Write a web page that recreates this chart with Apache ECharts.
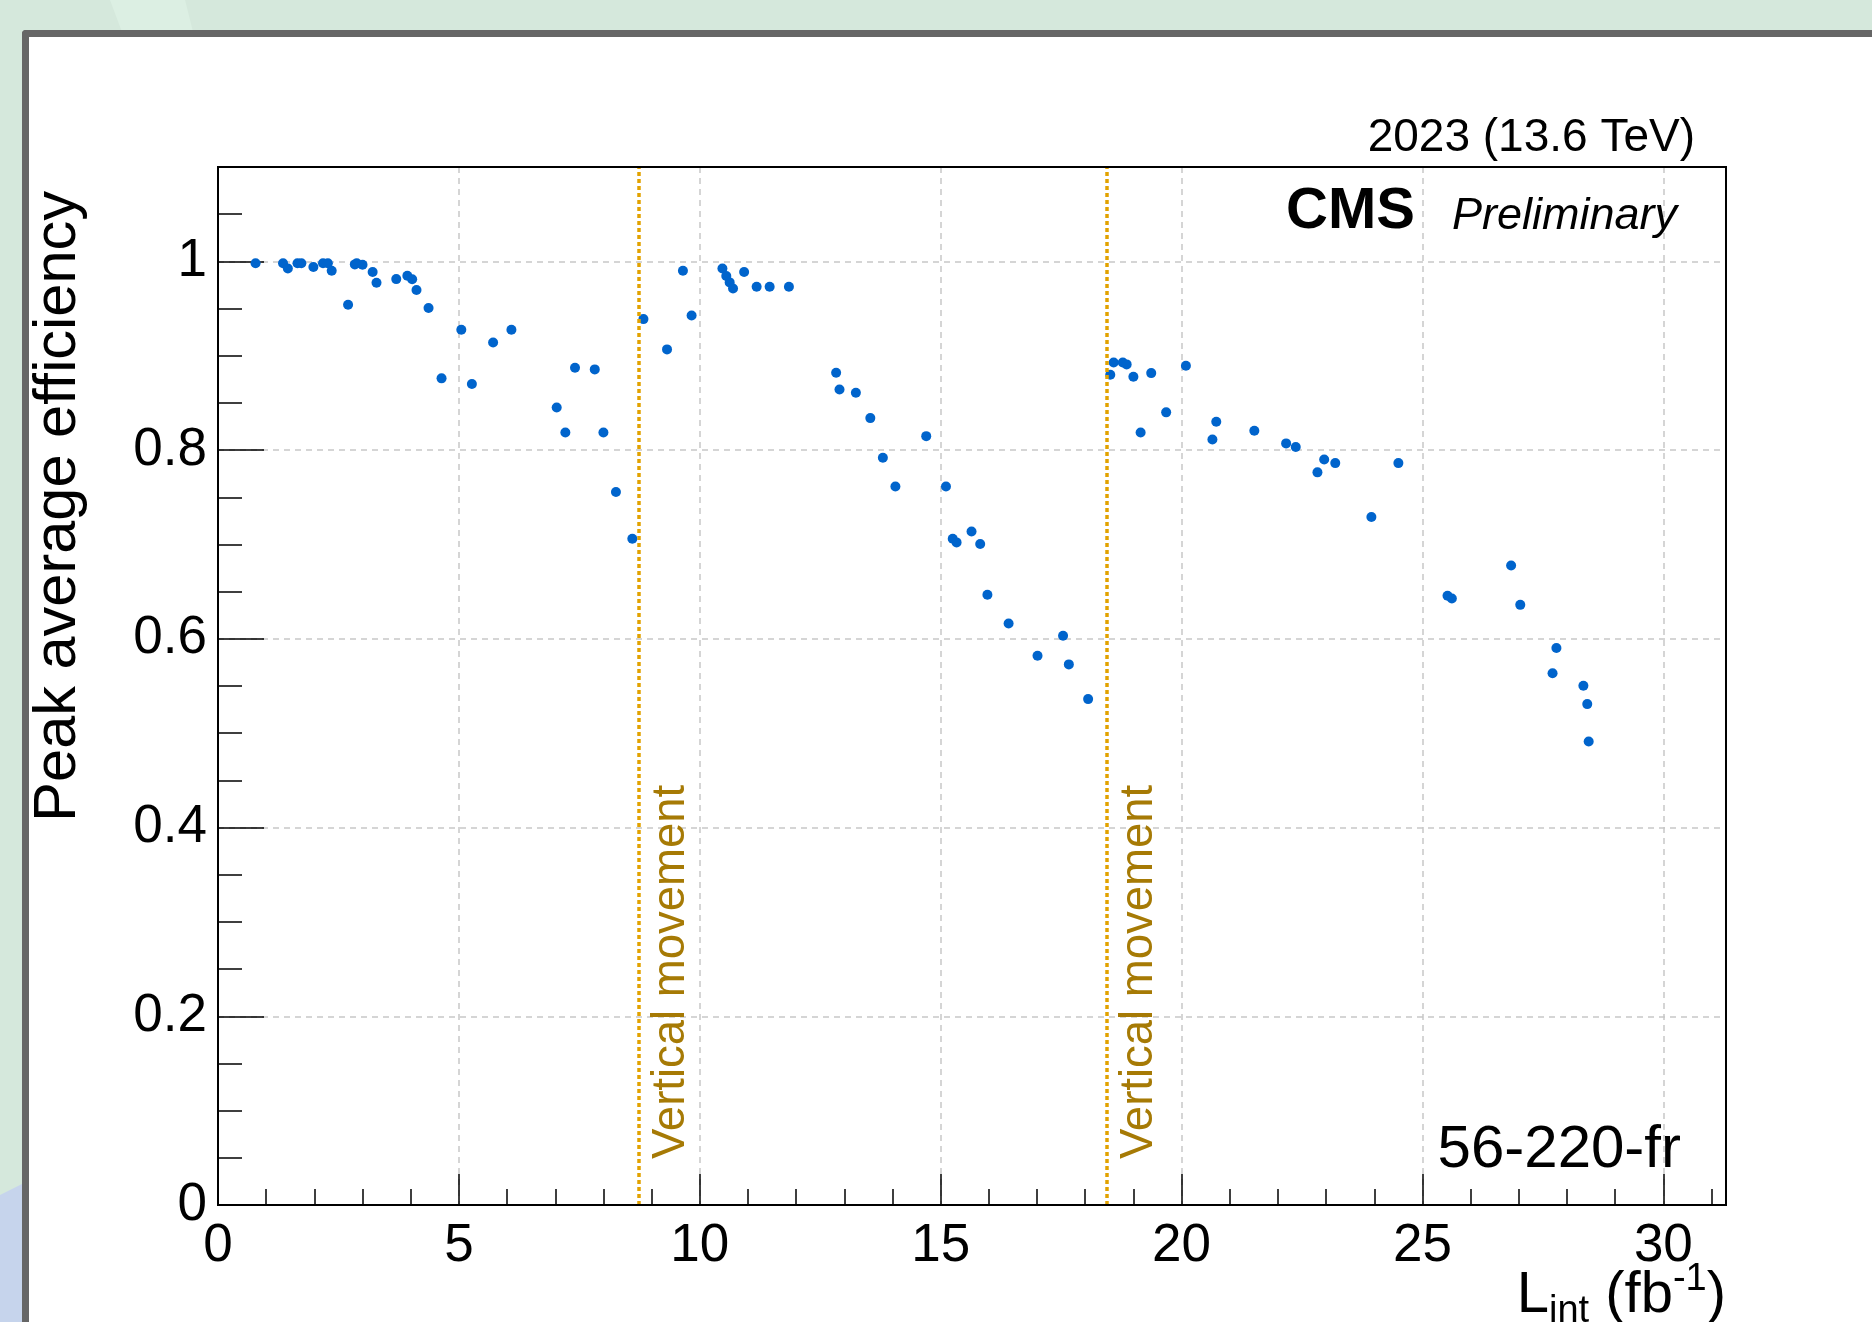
<!DOCTYPE html>
<html>
<head>
<meta charset="utf-8">
<script src="https://cdn.jsdelivr.net/npm/echarts@6/dist/echarts.min.js"></script>
<style>
html,body{margin:0;padding:0;width:1872px;height:1322px;overflow:hidden;background:#d5e8dc;}
#stripe{position:absolute;left:0;top:0;width:1872px;height:1322px;background:#dcefe3;clip-path:polygon(110px 0,185px 0,195px 40px,125px 40px);}
#blue{position:absolute;left:0;top:0;width:1872px;height:1322px;background:#c6d4ec;clip-path:polygon(0 1195px,30px 1180px,30px 1322px,0 1322px);}
#panel{position:absolute;left:22px;top:30px;width:1900px;height:1400px;background:#fff;border-left:7px solid #666;border-top:7px solid #666;border-top-left-radius:4px;}
#chart{position:absolute;left:0;top:0;width:1872px;height:1322px;}
</style>
</head>
<body>
<div id="stripe"></div>
<div id="blue"></div>
<div id="panel"></div>
<div id="chart"></div>
<script>
// ---- data ----
const lumi = [0.78,1.35,1.45,1.65,1.73,1.98,2.18,2.28,2.36,2.70,
  2.84,2.88,3.00,3.21,3.29,3.70,3.93,4.03,4.12,4.37,
  4.64,5.05,5.27,5.71,6.09,7.03,7.21,7.41,7.82,8.00,
  8.26,8.60,8.83,9.32,9.65,9.83,10.47,10.55,10.62,10.69,
  10.92,11.18,11.45,11.85,12.83,12.90,13.24,13.54,13.80,14.06,
  14.70,15.11,15.25,15.33,15.64,15.82,15.97,16.41,17.01,17.54,
  17.66,18.06,18.52,18.59,18.78,18.86,19.00,19.15,19.37,19.68,
  20.09,20.64,20.72,21.51,22.17,22.37,22.82,22.96,23.19,23.94,
  24.50,25.52,25.61,26.84,27.03,27.70,27.78,28.34,28.42,28.45];
const efficiency = [0.998,0.998,0.9925,0.998,0.998,0.994,0.998,0.998,0.990,0.954,
  0.9968,0.998,0.9964,0.9887,0.9773,0.9812,0.9848,0.981,0.9696,0.9505,
  0.876,0.9275,0.870,0.914,0.9275,0.8452,0.8187,0.8873,0.8855,0.8187,
  0.7555,0.706,0.9388,0.9067,0.990,0.9427,0.9925,0.9844,0.9777,0.9713,
  0.9887,0.9731,0.9731,0.9731,0.882,0.8643,0.8608,0.8339,0.7919,0.7615,
  0.8148,0.7615,0.706,0.7022,0.7138,0.7004,0.6467,0.6163,0.582,0.6032,
  0.5729,0.5361,0.8798,0.8929,0.8929,0.8908,0.8777,0.8187,0.8816,0.840,
  0.8894,0.8113,0.830,0.8205,0.8071,0.8032,0.7764,0.7901,0.7862,0.729,
  0.7862,0.6456,0.6428,0.6777,0.636,0.5636,0.5903,0.5502,0.5308,0.4911];
const verticalMovements = [8.73, 18.45];
const verticalLabel = 'Vertical movement';
const xRange = [0, 31.3];
const yRange = [0, 1.1];
const xTitleMain = 'L';
const xTitleSub = 'int';
const xTitleUnit = ' (fb';
const xTitleSup = '-1';
const yTitle = 'Peak average efficiency';
const energyLabel = '2023 (13.6 TeV)';
const cmsLabel = 'CMS';
const prelimLabel = 'Preliminary';
const chamberLabel = '56-220-fr';

// ---- chart ----
const FONT = '"Liberation Sans", Arial, Helvetica, sans-serif';
const G = {left: 218, top: 167, width: 1508, height: 1038};
const chart = echarts.init(document.getElementById('chart'), null, {renderer: 'canvas'});
const points = lumi.map((x, i) => [x, efficiency[i]]);

const gridLine = {show: true, lineStyle: {color: '#c8c8c8', type: [6, 5], width: 1.5}};

const option = {
  backgroundColor: 'transparent',
  animation: false,
  grid: {left: G.left, top: G.top, width: G.width, height: G.height, show: false, containLabel: false},
  xAxis: [
    {type: 'value', min: xRange[0], max: xRange[1], interval: 5, position: 'bottom',
      axisLine: {show: true, onZero: false, lineStyle: {color: '#000', width: 2}},
      axisTick: {show: true, inside: true, length: 31, lineStyle: {color: '#000', width: 1.5}},
      axisLabel: {show: true, margin: 15, fontSize: 53, fontFamily: FONT, color: '#000', showMaxLabel: false},
      splitLine: gridLine},
    {type: 'value', min: xRange[0], max: xRange[1], interval: 1, position: 'bottom', offset: 0,
      axisLine: {show: false, onZero: false},
      axisTick: {show: true, inside: true, length: 16, lineStyle: {color: '#000', width: 1.5}},
      axisLabel: {show: false}, splitLine: {show: false}}
  ],
  yAxis: [
    {type: 'value', min: yRange[0], max: yRange[1], interval: 0.2, position: 'left',
      axisLine: {show: true, onZero: false, lineStyle: {color: '#000', width: 2}},
      axisTick: {show: true, inside: true, length: 46, lineStyle: {color: '#000', width: 1.5}},
      axisLabel: {show: true, margin: 11, fontSize: 53, fontFamily: FONT, color: '#000', showMaxLabel: false},
      splitLine: gridLine},
    {type: 'value', min: yRange[0], max: yRange[1], interval: 0.05, position: 'left', offset: 0,
      axisLine: {show: false, onZero: false},
      axisTick: {show: true, inside: true, length: 24, lineStyle: {color: '#000', width: 1.5}},
      axisLabel: {show: false}, splitLine: {show: false}}
  ],
  series: [{
    type: 'scatter', xAxisIndex: 0, yAxisIndex: 0,
    data: points, symbol: 'circle', symbolSize: 10,
    itemStyle: {color: '#0064cc', opacity: 1},
    markLine: {
      silent: true, symbol: ['none', 'none'], label: {show: false},
      lineStyle: {color: '#e2a200', type: [4, 3], width: 3.5, opacity: 1},
      data: verticalMovements.map(v => ({xAxis: v}))
    }
  }]
};
chart.setOption(option);

const y0 = chart.convertToPixel({yAxisIndex: 0}, 0);
const graphics = [
  {type: 'rect', z: 100, silent: true,
    shape: {x: G.left, y: G.top, width: G.width, height: G.height},
    style: {fill: 'none', stroke: '#000', lineWidth: 2}},
  {type: 'text', z: 100, x: 1695, y: 138,
    style: {text: energyLabel, fontSize: 46, fontFamily: FONT, fill: '#000', textAlign: 'right', textVerticalAlign: 'middle', align: 'right', verticalAlign: 'middle'}},
  {type: 'text', z: 100, x: 1286, y: 212,
    style: {text: cmsLabel, fontSize: 58, fontWeight: 'bold', fontFamily: FONT, fill: '#000', textAlign: 'left', textVerticalAlign: 'middle', align: 'left', verticalAlign: 'middle'}},
  {type: 'text', z: 100, x: 1452, y: 216,
    style: {text: prelimLabel, fontSize: 45, fontStyle: 'italic', fontFamily: FONT, fill: '#000', textAlign: 'left', textVerticalAlign: 'middle', align: 'left', verticalAlign: 'middle'}},
  {type: 'text', z: 100, x: 1681, y: 1150,
    style: {text: chamberLabel, fontSize: 60, fontFamily: FONT, fill: '#000', textAlign: 'right', textVerticalAlign: 'middle', align: 'right', verticalAlign: 'middle'}},
  {type: 'text', z: 100, x: 59, y: 191, rotation: Math.PI / 2,
    style: {text: yTitle, fontSize: 59.5, fontFamily: FONT, fill: '#000', textAlign: 'right', textVerticalAlign: 'middle', align: 'right', verticalAlign: 'middle'}},
  {type: 'text', z: 100, x: G.left + G.width, y: 1261,
    style: {
      text: '{a|' + xTitleMain + '}{b|' + xTitleSub + '}{a|' + xTitleUnit + '}{c|' + xTitleSup + '}{a|)}',
      textAlign: 'right', textVerticalAlign: 'top', align: 'right', verticalAlign: 'top',
      rich: {
        a: {fontSize: 58, fontFamily: FONT, fill: '#000', lineHeight: 70, verticalAlign: 'middle'},
        b: {fontSize: 38, fontFamily: FONT, fill: '#000', lineHeight: 38, verticalAlign: 'bottom'},
        c: {fontSize: 38, fontFamily: FONT, fill: '#000', lineHeight: 38, verticalAlign: 'top'}
      }
    }}
];
verticalMovements.forEach(v => {
  const px = chart.convertToPixel({xAxisIndex: 0}, v);
  graphics.push({type: 'text', z: 100, x: px + 33, y: y0 - 46, rotation: Math.PI / 2,
    style: {text: verticalLabel, fontSize: 45.5, fontFamily: FONT, fill: '#a67a05', textAlign: 'left', textVerticalAlign: 'middle', align: 'left', verticalAlign: 'middle'}});
});
chart.setOption({graphic: graphics});
</script>
</body>
</html>
